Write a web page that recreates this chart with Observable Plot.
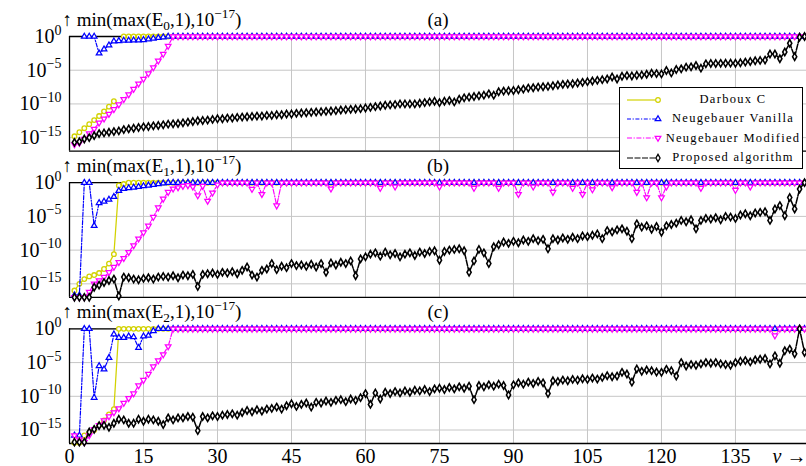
<!DOCTYPE html>
<html><head><meta charset="utf-8">
<script src="https://cdn.jsdelivr.net/npm/d3@7"></script>
<script src="https://cdn.jsdelivr.net/npm/@observablehq/plot@0.6"></script>
<style>
html,body{margin:0;padding:0;overflow:hidden;background:#fff}
#wrap{position:relative;width:806px;height:466px;font-family:"Liberation Serif","DejaVu Serif",serif}
#chart svg, #chart svg text, #chart svg tspan{font-family:"Liberation Serif","DejaVu Serif",serif !important}
#legend{position:absolute;left:619px;top:87px;width:184px;height:82px;border:1.3px solid #000;background:#fff;box-sizing:border-box;padding-top:2px}
#legend .row{display:flex;align-items:center;height:19.3px}
#legend svg{flex:none;display:block}
#legend span{flex:1;text-align:center;white-space:nowrap}
</style></head>
<body><div id="wrap"><div id="chart"></div><div id="legend"></div></div>
<script>
// x categories (nu = 1..149) and axis ticks
const nu = d3.range(1, 150);
const xTicks = [0, 15, 30, 45, 60, 75, 90, 105, 120, 135];
const yTickExps = [0, -5, -10, -15];
const panels = ["a", "b", "c"];
const panelSubs = ["0", "1", "2"];
const seriesNames = ["Darboux C", "Neugebauer Vanilla", "Neugebauer Modified", "Proposed algorithm"];

// values as log10 of min(max(E,1e-17),1), nu = 1..149 (10 per line)
const darbouxA = [
-14.8,-14.2,-13.6,-13.0,-12.4,-11.8,-11.1,-10.4,-9.6,null,
0,0,0,0,0,0,0,0,0,0, 0,0,0,0,0,0,0,0,0,0, 0,0,0,0,0,0,0,0,0,0,
0,0,0,0,0,0,0,0,0,0, 0,0,0,0,0,0,0,0,0,0, 0,0,0,0,0,0,0,0,0,0,
0,0,0,0,0,0,0,0,0,0, 0,0,0,0,0,0,0,0,0,0, 0,0,0,0,0,0,0,0,0,0,
0,0,0,0,0,0,0,0,0,0, 0,0,0,0,0,0,0,0,0,0, 0,0,0,0,0,0,0,0,0,0,
0,0,0,0,0,0,0,0,0,0, 0,0,0,0,0,0,0,0,0];
const vanillaA = [
null,null,0,0,0,-2.5,-1.9,-1.3,-0.7,-0.65,
-0.6,-0.6,-0.55,-0.55,-0.5,-0.4,-0.3,-0.2,-0.1,0,
0,0,0,0,0,0,0,0,0,0, 0,0,0,0,0,0,0,0,0,0, 0,0,0,0,0,0,0,0,0,0,
0,0,0,0,0,0,0,0,0,0, 0,0,0,0,0,0,0,0,0,0, 0,0,0,0,0,0,0,0,0,0,
0,0,0,0,0,0,0,0,0,0, 0,0,0,0,0,0,0,0,0,0, 0,0,0,0,0,0,0,0,0,0,
0,0,0,0,0,0,0,0,0,0, 0,0,0,0,0,0,0,0,0,0, 0,0,0,0,0,0,0,0,0,0,
0,0,0,0,0,0,0,0,0];
const modifiedA = [
-16.0,-15.8,-15.2,-14.4,-13.7,-12.8,-12.2,-11.5,-10.8,-10.1,
-9.3,-8.6,-7.8,-7.0,-6.3,-5.5,-4.6,-3.6,-2.6,-1.4,
0,0,0,0,0,0,0,0,0,0, 0,0,0,0,0,0,0,0,0,0, 0,0,0,0,0,0,0,0,0,0,
0,0,0,0,0,0,0,0,0,0, 0,0,0,0,0,0,0,0,0,0, 0,0,0,0,0,0,0,0,0,0,
0,0,0,0,0,0,0,0,0,0, 0,0,0,0,0,0,0,0,0,0, 0,0,0,0,0,0,0,0,0,0,
0,0,0,0,0,0,0,0,0,0, 0,0,0,0,0,0,0,0,0,0, 0,0,0,0,0,0,0,0,0,0,
0,0,0,0,0,0,0,0,0];
const proposedA = [
-15.7,-15.6,-15.2,-15.0,-14.7,-14.4,-14.3,-14.2,-14.1,-14.0,
-13.8,-13.7,-13.6,-13.5,-13.4,-13.35,-13.25,-13.2,-13.1,-13.0,
-12.95,-12.9,-12.8,-12.7,-12.6,-12.5,-12.45,-12.4,-12.3,-12.2,
-12.2,-12.1,-12.1,-12.0,-11.95,-11.9,-11.85,-11.8,-11.8,-11.7,
-11.7,-11.6,-11.6,-11.5,-11.5,-11.4,-11.35,-11.3,-11.25,-11.2,
-11.15,-11.1,-11.05,-11.0,-10.9,-10.85,-10.8,-10.75,-10.7,-10.6,
-10.5,-10.4,-10.3,-10.2,-10.15,-10.1,-10.0,-10.0,-10.0,-10.0,
-9.9,-9.8,-9.7,-9.6,-9.8,-9.6,-9.5,-9.7,-9.3,-9.1,
-9.0,-8.9,-8.8,-8.7,-8.5,-8.7,-8.2,-8.1,-8.05,-8.0,
-7.9,-7.8,-7.65,-7.6,-7.5,-7.45,-7.4,-7.3,-7.2,-7.1,
-7.05,-7.0,-6.9,-6.8,-6.7,-6.6,-6.5,-6.4,-6.3,-6.0,
-6.3,-5.9,-5.8,-5.85,-5.75,-5.7,-5.6,-5.45,-5.5,-5.55,
-5.05,-5.4,-4.9,-4.8,-4.55,-4.5,-4.3,-4.7,-4.05,-4.0,
-4.0,-3.98,-3.97,-3.95,-3.97,-3.9,-3.8,-3.7,-3.6,-3.55,
-3.5,-2.6,-2.6,-3.3,-2.3,-1.0,-3.0,-0.1,0];

const darbouxB = [
-16.0,-15.0,-14.3,-13.9,-13.7,-13.4,-12.8,-12.0,-10.6,-0.4,
-0.2,0,0,0,0,0,0,0,0,0,
0,0,0,0,0,0,0,0,0,0, 0,0,0,0,0,0,0,0,0,0, 0,0,0,0,0,0,0,0,0,0,
0,0,0,0,0,0,0,0,0,0, 0,0,0,0,0,0,0,0,0,0, 0,0,0,0,0,0,0,0,0,0,
0,0,0,0,0,0,0,0,0,0, 0,0,0,0,0,0,0,0,0,0, 0,0,0,0,0,0,0,0,0,0,
0,0,0,0,0,0,0,0,0,0, 0,0,0,0,0,0,0,0,0,0, 0,0,0,0,0,0,0,0,0,0,
0,0,0,0,0,0,0,0,0];
const vanillaB = [
-16.7,-16.7,0,0,-6.4,-3.0,-2.8,-2.5,-2.1,-1.2,
-0.9,-0.8,-0.7,-0.6,-0.5,-0.4,-0.3,-0.2,-0.1,0,
0,0,0,0,0,0,0,0,0,0, 0,0,0,0,0,0,0,0,0,0, 0,0,0,0,0,0,0,0,0,0,
0,0,0,0,0,0,0,0,0,0, 0,0,0,0,0,0,0,0,0,0, 0,0,0,0,0,0,0,0,0,0,
0,0,0,0,0,0,0,0,0,0, 0,0,0,0,0,0,0,0,0,0, 0,0,0,0,0,0,0,0,0,0,
0,0,0,0,0,0,0,0,0,0, 0,0,0,0,0,0,0,0,0,0, 0,0,0,0,0,0,0,0,0,0,
0,0,0,0,0,0,0,0,0];
const modifiedB = [
-17,-17,-17,-16.2,-15.0,-14.5,-14.0,-13.3,-12.5,-11.8,
-11.2,-10.3,-9.3,-8.3,-7.4,-6.4,-5.1,-3.7,-2.4,-1.4,
-0.9,-0.7,-0.5,-0.4,-0.6,-1.9,-0.5,-2.7,-1.5,-0.3,
0,0,0,0,0,0,-0.95,0,-1.7,0,
0,-3.4,0,0,0,0,0,0,0,0,
0,0,-0.9,0,0,0,0,0,0,0,
0,0,-0.8,0,0,-0.6,0,0,0,0,
0,0,0,0,-0.6,0,0,0,0,0,
0,-0.8,0,0,0,0,-0.8,0,0,0,
-1.7,0,0,-0.6,0,0,0,-1.4,0,0,
0,-0.8,0,-1.7,0,-1.0,0,0,0,-0.7,
0,0,0,0,-1.4,0,-2.2,0,0,-2.2,
-0.6,0,0,0,0,0,0,-0.8,0,0,
0,0,0,0,-1.1,0,0,-0.6,0,0,
0,0,0,0,0,0,0,0,0];
const proposedB = [
-17,-17,-17,-17,-15.5,-15.2,-14.8,-14.5,-14.3,-16.8,
-14.0,-14.1,-14.3,-14.4,-14.2,-14.1,-14.3,-14.0,-13.9,-14.0,
-13.8,-14.1,-13.7,-13.8,-13.6,-15.4,-13.6,-13.5,-13.4,-13.6,
-13.3,-13.4,-13.2,-13.5,-13.0,-12.5,-13.7,-14.0,-13.0,-12.8,
-12.0,-12.9,-12.4,-12.6,-12.0,-12.3,-12.2,-12.4,-12.1,-12.5,
-12.0,-13.3,-11.9,-12.2,-11.8,-12.0,-11.6,-13.8,-11.3,-11.0,
-10.6,-10.4,-10.9,-10.3,-10.7,-10.5,-11.0,-10.6,-10.4,-10.8,
-10.3,-10.5,-10.2,-10.1,-11.5,-10.2,-10.0,-9.9,-9.8,-10.1,
-13.3,-11.6,-9.9,-10.4,-12.0,-9.5,-9.2,-8.8,-9.0,-8.7,
-8.9,-8.5,-8.7,-8.3,-8.6,-8.4,-9.8,-8.3,-8.5,-8.2,
-8.4,-8.1,-8.3,-7.9,-8.0,-7.8,-7.6,-8.3,-7.1,-7.3,
-7.0,-6.85,-7.2,-8.3,-6.1,-6.6,-6.4,-6.9,-6.5,-7.35,
-6.4,-6.2,-6.0,-5.6,-5.8,-5.5,-6.85,-5.6,-5.3,-5.4,
-5.2,-5.5,-5.0,-5.1,-5.3,-4.8,-4.6,-4.9,-4.5,-4.4,
-4.3,-5.6,-3.9,-3.4,-4.9,-2.2,-3.9,-0.95,0];

const darbouxC = [
-16.9,-16.9,-15.8,-15.4,-15.0,-14.3,-13.6,-12.7,-11.9,0,
0,0,0,0,0,0,0,0,0,0, 0,0,0,0,0,0,0,0,0,0, 0,0,0,0,0,0,0,0,0,0,
0,0,0,0,0,0,0,0,0,0, 0,0,0,0,0,0,0,0,0,0, 0,0,0,0,0,0,0,0,0,0,
0,0,0,0,0,0,0,0,0,0, 0,0,0,0,0,0,0,0,0,0, 0,0,0,0,0,0,0,0,0,0,
0,0,0,0,0,0,0,0,0,0, 0,0,0,0,0,0,0,0,0,0, 0,0,0,0,0,0,0,0,0,0,
0,0,0,0,0,0,0,0,0,0, 0,0,0,0,0,0,0,0,0];
const vanillaC = [
-15.8,-15.8,0,0,-10.2,-5.5,-6.0,-4.3,-0.8,-1.3,
-1.3,-1.1,-1.2,-2.8,-1.1,-1.0,-0.3,0,0,0,
0,0,0,0,0,0,0,0,0,0, 0,0,0,0,0,0,0,0,0,0, 0,0,0,0,0,0,0,0,0,0,
0,0,0,0,0,0,0,0,0,0, 0,0,0,0,0,0,0,0,0,0, 0,0,0,0,0,0,0,0,0,0,
0,0,0,0,0,0,0,0,0,0, 0,0,0,0,0,0,0,0,0,0, 0,0,0,0,0,0,0,0,0,0,
0,0,0,0,0,0,0,0,0,0, 0,0,0,0,0,0,0,0,0,0, 0,0,0,0,0,0,0,0,0,0,
0,0,0,0,0,0,0,0,0];
const modifiedC = [
-15.8,-16.4,-16.8,-15.8,-14.9,-14.3,-13.6,-13.0,-12.4,-11.8,
-11.0,-10.3,-9.6,-8.4,-7.6,-6.7,-5.6,-4.7,-3.8,-2.6,
0,0,0,0,0,0,0,0,0,0, 0,0,0,0,0,0,0,0,0,0, 0,0,0,0,0,0,0,0,0,0,
0,0,0,0,0,0,0,0,0,0, 0,0,0,0,0,0,0,0,0,0, 0,0,0,0,0,0,0,0,0,0,
0,0,0,0,0,0,0,0,0,0, 0,0,0,0,0,0,0,0,0,0, 0,0,0,0,0,0,0,0,0,0,
0,0,0,0,0,0,0,0,0,0, 0,0,0,0,0,0,0,0,0,0, 0,0,0,0,0,0,0,0,0,0,
0,0,-1.0,0,0,0,0,0,0];
const proposedC = [
-16.8,-16.8,-16.8,-15.3,-14.9,-14.35,-14.3,-14.6,-14.0,-13.4,
-13.5,-14.0,-14.0,-13.4,-13.7,-13.4,-13.5,-13.7,-14.2,-13.2,
-13.5,-13.2,-13.2,-13.0,-13.1,-15.1,-13.0,-13.2,-12.9,-13.0,
-12.8,-12.7,-12.6,-12.8,-12.4,-12.1,-12.3,-12.0,-12.2,-11.9,
-11.8,-11.6,-11.9,-11.4,-11.1,-11.5,-11.2,-11.0,-11.6,-10.9,
-11.0,-10.7,-10.9,-10.6,-10.5,-10.8,-10.4,-10.6,-10.2,-9.6,
-11.2,-9.5,-10.4,-9.4,-9.6,-9.3,-9.5,-9.2,-9.4,-9.1,
-9.2,-9.0,-9.3,-8.9,-8.8,-9.0,-8.7,-8.9,-8.6,-8.8,
-8.5,-10.5,-8.4,-8.6,-8.3,-8.5,-8.2,-8.4,-9.8,-8.3,
-8.0,-8.2,-7.9,-8.1,-7.8,-8.0,-9.6,-7.7,-7.8,-7.6,
-7.7,-7.5,-7.6,-7.4,-7.5,-7.3,-7.45,-7.2,-6.95,-7.1,
-7.0,-6.45,-6.7,-7.9,-5.95,-6.3,-6.1,-6.2,-6.4,-6.45,
-6.0,-6.2,-7.0,-5.0,-5.5,-5.3,-5.4,-5.2,-5.0,-5.1,
-5.0,-5.2,-5.3,-5.4,-5.0,-4.8,-4.7,-4.9,-4.6,-4.5,
-4.4,-5.2,-4.0,-5.1,-3.25,-3.0,-3.7,0,-3.5];

const seriesByPanel = {
  a: [darbouxA, vanillaA, modifiedA, proposedA],
  b: [darbouxB, vanillaB, modifiedB, proposedB],
  c: [darbouxC, vanillaC, modifiedC, proposedC]
};

// styles
const styles = [
  {color: "#d2d200", dash: null, symbol: "circle", rotate: 0, r: 2.3, sw: 1.3},
  {color: "#0000ff", dash: "4,1.6,1.2,1.6", symbol: "triangle", rotate: 0, r: 2.1, sw: 1.25},
  {color: "#ff00ff", dash: "5,1.6,1.2,1.6", symbol: "triangle", rotate: 180, r: 2.1, sw: 1.25},
  {color: "#000000", dash: "6,1.5", symbol: "diamond", rotate: 0, r: 2.2, sw: 1.55}
];

// font scale: make "10" at nominal 20px be about 20px wide whatever serif face is found
const FONT = '"Liberation Serif","DejaVu Serif",serif';
const ctx = document.createElement("canvas").getContext("2d");
ctx.font = `20px ${FONT}`;
const K = Math.min(1.05, 20 / ctx.measureText("10").width);
const fs = v => +(v * K).toFixed(2);

const rows = [];
for (const p of panels) {
  seriesByPanel[p].forEach((arr, si) => {
    arr.forEach((e, i) => rows.push({panel: p, s: si, nu: nu[i], v: e == null ? NaN : Math.pow(10, e)}));
  });
}

const panelInfo = panels.map((p, i) => ({panel: p, sub: panelSubs[i], tag: `(${p})`}));

const marks = [
  Plot.gridX(xTicks.slice(1), {stroke: "#c6c6c6", strokeOpacity: 1, strokeWidth: 1}),
  Plot.gridY(yTickExps.map(e => Math.pow(10, e)), {stroke: "#c6c6c6", strokeOpacity: 1, strokeWidth: 1}),
  Plot.ruleX([0], {stroke: "black", strokeWidth: 1.3}),
  Plot.ruleY([1e-17, 1], {stroke: "black", strokeWidth: 1.3})
];
styles.forEach((st, si) => {
  const d = rows.filter(r => r.s === si);
  marks.push(Plot.line(d, {x: "nu", y: "v", fy: "panel", stroke: st.color, strokeWidth: st.sw - 0.05,
    strokeDasharray: st.dash || undefined, curve: "linear"}));
  marks.push(Plot.dot(d, {x: "nu", y: "v", fy: "panel", symbol: st.symbol, r: st.r, stroke: st.color,
    fill: "white", strokeWidth: st.sw, rotate: st.rotate}));
});
marks.push(
  Plot.text(panelInfo, {fy: "panel", frameAnchor: "top-left", text: d => `↑ min(max(E_{${d.sub}},1),10^{−17})`,
    textAnchor: "start", lineAnchor: "bottom", dx: -7, dy: -11, fontSize: fs(19)}),
  Plot.text(panelInfo, {fy: "panel", frameAnchor: "top", text: "tag", lineAnchor: "bottom", dy: -11, fontSize: fs(19)}),
  Plot.text(panelInfo.filter(d => d.panel === "c"), {fy: "panel", frameAnchor: "bottom-right", text: () => "ν →",
    textAnchor: "end", lineAnchor: "top", dy: 5, dx: 0, fontSize: fs(20), fontStyle: "italic"})
);

const chart = Plot.plot({
  width: 806, height: 466,
  marginLeft: 69, marginRight: 0, marginTop: 36, marginBottom: 23,
  style: {fontSize: fs(20) + "px", background: "white", color: "black"},
  x: {domain: [0, 149.4], ticks: xTicks, tickSize: 0, tickPadding: 5, label: null},
  y: {type: "log", domain: [1e-17, 1], ticks: yTickExps.map(e => Math.pow(10, e)), tickSize: 0, tickPadding: 8, label: null,
      tickFormat: d => { const e = Math.round(Math.log10(d)); return `10^{${e === 0 ? "0" : "−" + (-e)}}`; }},
  fy: {domain: panels, paddingInner: 0.2158, paddingOuter: 0, round: false, axis: null, label: null},
  marks
});
chart.setAttribute("font-family", FONT);
document.getElementById("chart").appendChild(chart);

// rich text: ^{..} superscript, _{..} subscript
const NS = "http://www.w3.org/2000/svg";
chart.querySelectorAll("text").forEach(t => {
  const s = t.textContent;
  if (!/[\^_]\{/.test(s)) return;
  const f = parseFloat(getComputedStyle(t).fontSize) || 20;
  while (t.firstChild) t.removeChild(t.firstChild);
  const re = /([\^_])\{([^}]*)\}/g;
  let last = 0, m, pend = 0;
  const put = (str, kind) => {
    if (!str) return;
    const ts = document.createElementNS(NS, "tspan");
    ts.textContent = str;
    if (kind) {
      const sh = kind === "^" ? -0.42 * f : 0.22 * f;
      ts.setAttribute("dy", sh + pend);
      ts.setAttribute("font-size", (0.7 * f).toFixed(1));
      pend = -sh;
    } else if (pend) { ts.setAttribute("dy", pend); pend = 0; }
    t.appendChild(ts);
  };
  while ((m = re.exec(s))) { put(s.slice(last, m.index)); put(m[2], m[1]); last = re.lastIndex; }
  put(s.slice(last));
});

// legend
const leg = document.getElementById("legend");
seriesNames.forEach((name, i) => {
  const st = styles[i];
  const row = document.createElement("div"); row.className = "row";
  const sym = d3.symbol(d3[{circle: "symbolCircle", triangle: "symbolTriangle", diamond: "symbolDiamond"}[st.symbol]], Math.PI * st.r * st.r)();
  row.innerHTML = `<svg width="44" height="14"><line x1="7" x2="38" y1="7" y2="7" stroke="${st.color}" stroke-width="1.2" ${st.dash ? `stroke-dasharray="${st.dash}"` : ""}/><path d="${sym}" transform="translate(38,7) rotate(${st.rotate})" fill="white" stroke="${st.color}" stroke-width="1.25"/></svg><span style="font-size:${fs(12.5)}px;letter-spacing:${(1.3 * K).toFixed(2)}px">${name}</span>`;
  leg.appendChild(row);
});
</script>
</body></html>
